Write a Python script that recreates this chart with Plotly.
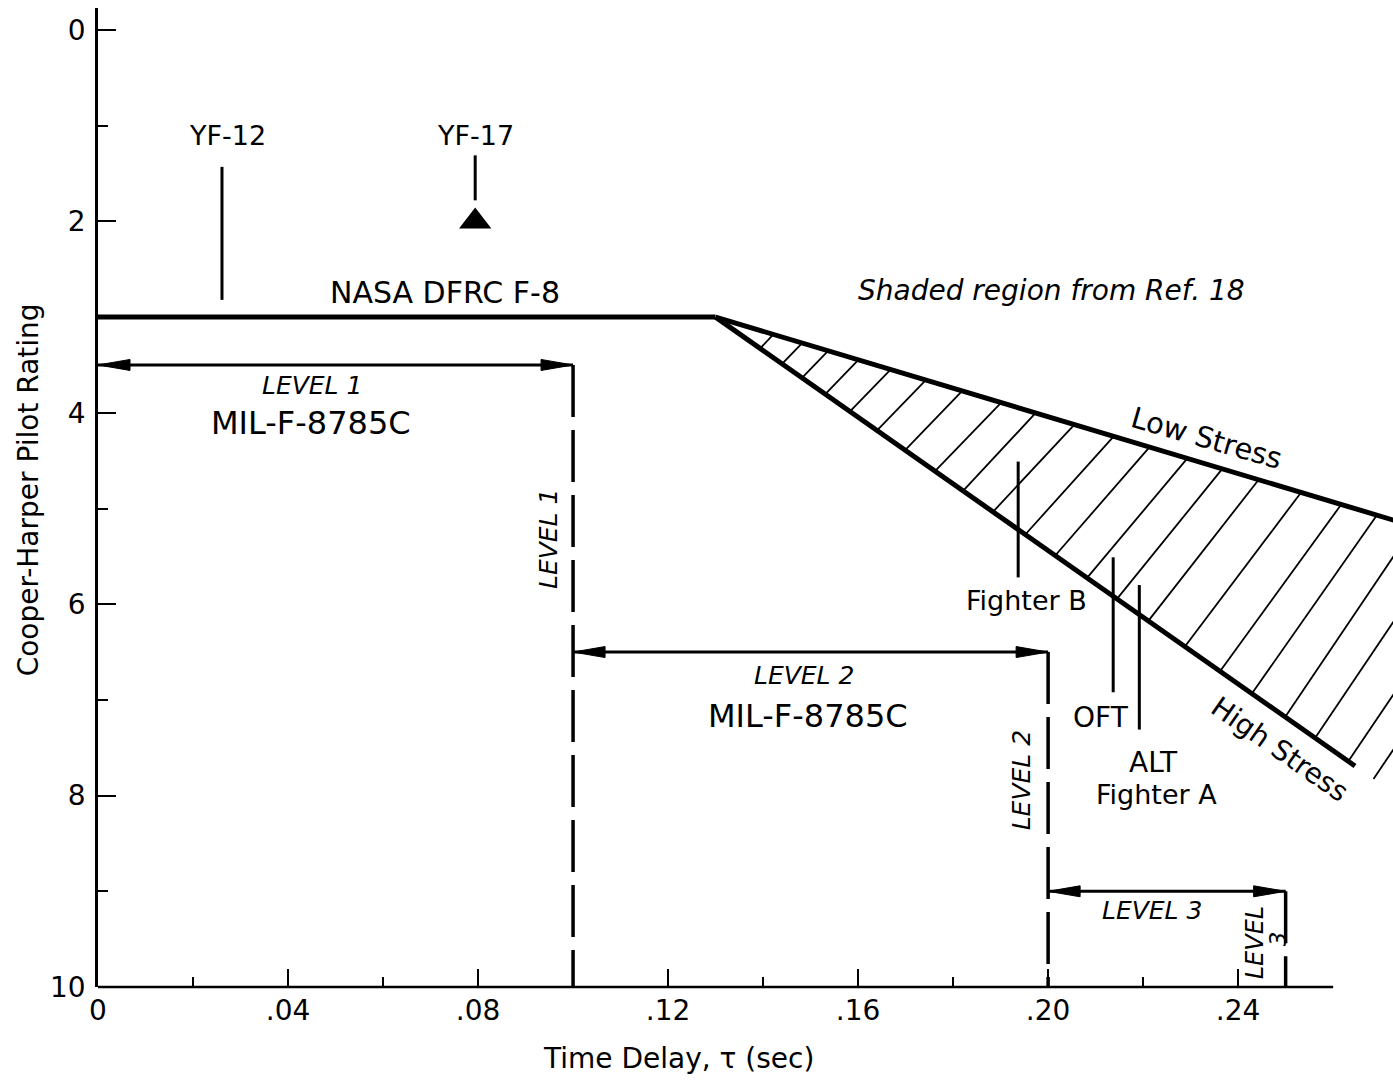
import numpy as np
import plotly.graph_objects as go

# ---------------- data ----------------
x_ticks = [0, 0.04, 0.08, 0.12, 0.16, 0.20, 0.24]
x_tick_labels = ["0", ".04", ".08", ".12", ".16", ".20", ".24"]
x_minor_ticks = [0.02, 0.06, 0.10, 0.14, 0.18, 0.22]
y_ticks = [0, 2, 4, 6, 8, 10]
y_tick_labels = ["0", "2", "4", "6", "8", "10"]
y_minor_ticks = [1, 3, 5, 7, 9]

# NASA DFRC F-8 boundary and the two Ref. 18 boundaries
f8_tau = [0.0, 0.13]
f8_rating = [3.0, 3.0]
low_tau = [0.13, 0.28]
low_rating = [3.0, 5.23]
high_tau = [0.13, 0.2646]
high_rating = [3.0, 7.69]

# MIL-F-8785C level boundaries
level_start = [0.0, 0.10, 0.20]
level_end = [0.10, 0.20, 0.25]
level_rating = [3.5, 6.5, 9.0]

# aircraft leader lines
aircraft = ["YF-12", "YF-17", "Fighter B", "OFT", "ALT"]
aircraft_tau = [0.0261, 0.0794, 0.1937, 0.2137, 0.2192]
aircraft_r_top = [1.43, 1.31, 4.51, 5.51, 5.80]
aircraft_r_bot = [2.82, 1.78, 5.72, 6.92, 7.31]

# YF-17 data point
yf17_tau = [0.0794]
yf17_rating = [2.0]

# hand-drawn hatching of the shaded region: foot on the high-stress line, drawing angle (deg)
hatch_foot_tau = [0.1394, 0.1440, 0.1482, 0.1531, 0.1583, 0.1640, 0.1699, 0.1762,
                  0.1821, 0.1884, 0.1952, 0.2015, 0.2082, 0.2145, 0.2211, 0.2288,
                  0.2362, 0.2429, 0.2499, 0.2562, 0.2632, 0.2685]
hatch_angle = [47, 46, 46, 46, 46, 46, 46, 46, 47, 47, 48, 49, 50, 51, 52, 53,
               54, 55, 56, 56, 56, 56]

# ---------------- layout geometry ----------------
W, H = 1393, 1080
ML, MR, MT, MB = 98, 0, 8, 93
X_RANGE = [0, 0.2726]
Y_RANGE = [10, -0.23]
AXIS_END = 0.26
PX_X = (W - ML - MR) / (X_RANGE[1] - X_RANGE[0])
PX_Y = (H - MT - MB) / (Y_RANGE[0] - Y_RANGE[1])

FONT = "DejaVu Sans"
BLACK = "black"

fig = go.Figure()

# ---- hatching ----
hs = (high_rating[1] - high_rating[0]) / (high_tau[1] - high_tau[0])
ls = (low_rating[1] - low_rating[0]) / (low_tau[1] - low_tau[0])
hx, hy = [], []
for xf, ang in zip(hatch_foot_tau, hatch_angle):
    yf = high_rating[0] + hs * (xf - high_tau[0])
    dx = np.cos(np.radians(ang)) / PX_X
    dr = -np.sin(np.radians(ang)) / PX_Y
    t = (low_rating[0] + ls * (xf - low_tau[0]) - yf) / (dr - ls * dx)
    hx += [xf, xf + t * dx, None]
    hy += [yf, yf + t * dr, None]
fig.add_trace(go.Scatter(x=hx, y=hy, mode="lines",
                         line=dict(color=BLACK, width=1.8), hoverinfo="skip"))

# ---- boundaries ----
for xs, ys in [(f8_tau, f8_rating), (low_tau, low_rating), (high_tau, high_rating)]:
    fig.add_trace(go.Scatter(x=xs, y=ys, mode="lines",
                             line=dict(color=BLACK, width=5)))

# ---- level arrows ----
AL, AW = 32, 5.5
ax_, ay_ = [], []
for s, e, r in zip(level_start, level_end, level_rating):
    fig.add_trace(go.Scatter(x=[s, e], y=[r, r], mode="lines",
                             line=dict(color=BLACK, width=3)))
    ax_ += [s, s + AL / PX_X, s + AL / PX_X, s, None]
    ay_ += [r, r - AW / PX_Y, r + AW / PX_Y, r, None]
    ax_ += [e, e - AL / PX_X, e - AL / PX_X, e, None]
    ay_ += [r, r - AW / PX_Y, r + AW / PX_Y, r, None]
fig.add_trace(go.Scatter(x=ax_, y=ay_, mode="lines", fill="toself",
                         fillcolor=BLACK, line=dict(color=BLACK, width=1)))

# dashed level boundaries
for e, r in zip(level_end, level_rating):
    fig.add_trace(go.Scatter(x=[e, e], y=[r, Y_RANGE[0]], mode="lines",
                             line=dict(color=BLACK, width=3.5, dash="52px,13px")))

# ---- aircraft leader lines ----
for tx, rt, rb in zip(aircraft_tau, aircraft_r_top, aircraft_r_bot):
    fig.add_trace(go.Scatter(x=[tx, tx], y=[rt, rb], mode="lines",
                             line=dict(color=BLACK, width=3)))

fig.add_trace(go.Scatter(x=yf17_tau, y=yf17_rating, mode="markers",
                         marker=dict(symbol="triangle-up", size=28, color=BLACK)))

# ---- text labels ----
labels = [
    ("YF-12", 0.0272, 1.10, 27, 0),
    ("YF-17", 0.0794, 1.10, 27, 0),
    ("NASA DFRC F-8", 0.0731, 2.74, 30, 0),
    ("<i>Shaded region from Ref. 18</i>", 0.2008, 2.72, 28, 0),
    ("<i>LEVEL 1</i>", 0.0451, 3.71, 25, 0),
    ("MIL-F-8785C", 0.0448, 4.11, 32, 0),
    ("<i>LEVEL 1</i>", 0.0947, 5.32, 25, -90),
    ("<i>LEVEL 2</i>", 0.1486, 6.75, 25, 0),
    ("MIL-F-8785C", 0.1495, 7.17, 32, 0),
    ("<i>LEVEL 2</i>", 0.1943, 7.84, 25, -90),
    ("<i>LEVEL 3</i>", 0.2219, 9.20, 25, 0),
    ("<i>LEVEL</i>", 0.2436, 9.53, 24, -90),
    ("<i>3</i>", 0.2484, 9.50, 23, -90),
    ("Low Stress", 0.2333, 4.26, 29, 16),
    ("High Stress", 0.2488, 7.52, 28, 35),
    ("Fighter B", 0.1954, 5.96, 27, 0),
    ("OFT", 0.2112, 7.18, 28, 0),
    ("ALT", 0.2221, 7.65, 28, 0),
    ("Fighter A", 0.2229, 7.99, 27, 0),
]
annotations = []
for txt, lx, ly, fs, ang in labels:
    annotations.append(dict(text=txt, x=lx, y=ly, xref="x", yref="y",
                            showarrow=False, textangle=ang,
                            font=dict(family=FONT, size=fs, color=BLACK)))

# axis titles
annotations.append(dict(text="Time Delay, τ (sec)", x=0.1223, xref="x", y=0, yref="paper",
                        xanchor="center", yanchor="middle",
                        yshift=-71, showarrow=False,
                        font=dict(family=FONT, size=28, color=BLACK)))
annotations.append(dict(text="Cooper-Harper Pilot Rating", x=0, xref="paper", xshift=-70,
                        xanchor="center", yanchor="middle",
                        y=4.81, yref="y", showarrow=False, textangle=-90,
                        font=dict(family=FONT, size=28, color=BLACK)))

fig.update_layout(
    width=W, height=H,
    margin=dict(l=ML, r=MR, t=MT, b=MB),
    plot_bgcolor="white", paper_bgcolor="white",
    showlegend=False,
    annotations=annotations,
    font=dict(family=FONT, color=BLACK),
    shapes=[dict(type="line", xref="paper", yref="paper",
                 x0=0, x1=AXIS_END / X_RANGE[1], y0=0, y1=0,
                 line=dict(color=BLACK, width=2.5))],
)
fig.update_xaxes(range=X_RANGE, showgrid=False, zeroline=False, showline=False,
                 tickvals=x_ticks, ticktext=x_tick_labels,
                 ticks="inside", ticklen=18, tickwidth=2, tickcolor=BLACK,
                 ticklabelstandoff=4,
                 tickfont=dict(family=FONT, size=28, color=BLACK),
                 minor=dict(tickvals=x_minor_ticks, ticks="inside", ticklen=10,
                            tickwidth=2, tickcolor=BLACK, showgrid=False))
fig.update_yaxes(range=Y_RANGE, showgrid=False, zeroline=False, showline=True,
                 linecolor=BLACK, linewidth=2.5,
                 tickvals=y_ticks, ticktext=y_tick_labels,
                 ticks="inside", ticklen=18, tickwidth=2, tickcolor=BLACK,
                 ticklabelstandoff=4,
                 tickfont=dict(family=FONT, size=28, color=BLACK),
                 minor=dict(tickvals=y_minor_ticks, ticks="inside", ticklen=10,
                            tickwidth=2, tickcolor=BLACK, showgrid=False))

fig.write_html("out.html")
